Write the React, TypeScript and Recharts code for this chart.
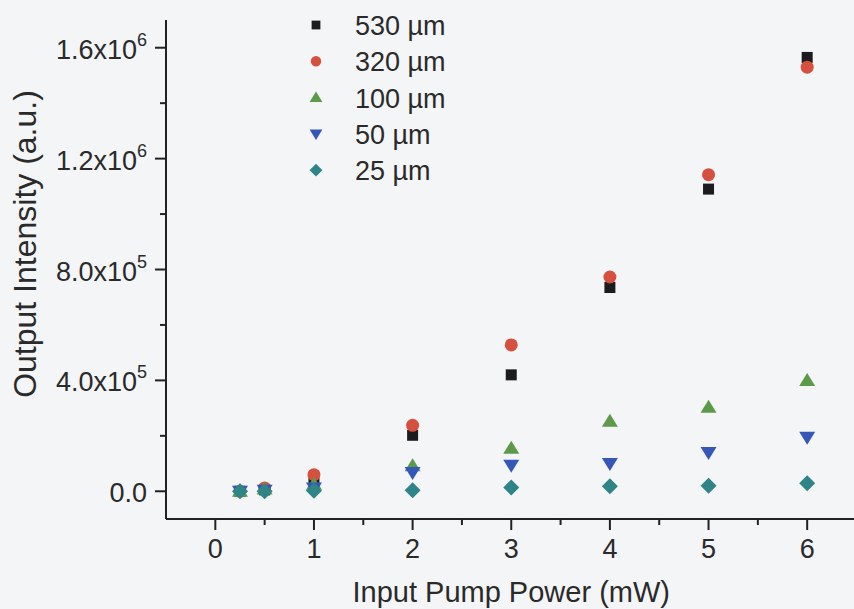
import React from 'react';
import { ScatterChart, Scatter, XAxis, YAxis, Legend, Label } from 'recharts';

const xValues = [0.25, 0.5, 1, 2, 3, 4, 5, 6];
const s530 = [0, 5000, 30000, 202000, 420000, 735000, 1090000, 1565000];
const s320 = [0, 12000, 60000, 238000, 528000, 773000, 1142000, 1530000];
const s100 = [0, 8000, 25000, 92000, 155000, 253000, 303000, 400000];
const s50 = [0, 4000, 12000, 68000, 94000, 100000, 140000, 195000];
const s25 = [0, 0, 2000, 4000, 14000, 18000, 20000, 29000];

const seriesNames = ['530 \u00b5m', '320 \u00b5m', '100 \u00b5m', '50 \u00b5m', '25 \u00b5m'];
const seriesColors = ['#1c1c1e', '#d6503f', '#5c9a49', '#3558b8', '#2e8486'];
const seriesShapes = ['square', 'circle', 'triangle', 'down', 'diamond'];
const seriesValues = [s530, s320, s100, s50, s25];

const xTicks = [0, 0.5, 1, 1.5, 2, 2.5, 3, 3.5, 4, 4.5, 5, 5.5, 6, 6.5];
const xTickLabels = ['0', '1', '2', '3', '4', '5', '6'];
const yTicks = [0, 200000, 400000, 600000, 800000, 1000000, 1200000, 1400000, 1600000];
const yMajor = [0, 400000, 800000, 1200000, 1600000];
const yTickBase = ['0.0', '4.0x10', '8.0x10', '1.2x10', '1.6x10'];
const yTickExp = ['', '5', '5', '6', '6'];

const TEXT = '#2a2a2a';
const AXIS = '#222';
const FONT = 'Liberation Sans, Arial, Helvetica, sans-serif';

const makeData = (vals: number[]) => vals.map((v, i) => ({ x: xValues[i], y: v }));

function Marker({ kind, cx, cy, color, scale = 1 }: any) {
  if (cx == null || cy == null) return null;
  const s = scale;
  if (kind === 'square') {
    const h = 5.5 * s;
    return <rect x={cx - h} y={cy - h} width={2 * h} height={2 * h} fill={color} />;
  }
  if (kind === 'circle') {
    return <circle cx={cx} cy={cy} r={6.5 * s} fill={color} />;
  }
  if (kind === 'triangle') {
    const w = 8 * s, hUp = 7.5 * s, hDn = 5.5 * s;
    return <polygon points={`${cx},${cy - hUp} ${cx + w},${cy + hDn} ${cx - w},${cy + hDn}`} fill={color} />;
  }
  if (kind === 'down') {
    const w = 8 * s, hUp = 5.5 * s, hDn = 7.5 * s;
    return <polygon points={`${cx - w},${cy - hUp} ${cx + w},${cy - hUp} ${cx},${cy + hDn}`} fill={color} />;
  }
  const d = 8 * s;
  return <polygon points={`${cx},${cy - d} ${cx + d},${cy} ${cx},${cy + d} ${cx - d},${cy}`} fill={color} />;
}

function XTick(props: any) {
  const { x, y, payload } = props;
  const v = payload.value;
  const isMajor = Math.abs(v - Math.round(v)) < 1e-9;
  const idx = Math.round(v);
  return (
    <g>
      <line x1={x} y1={y} x2={x} y2={y + (isMajor ? 11 : 6)} stroke={AXIS} strokeWidth={2} />
      {isMajor && idx >= 0 && idx < xTickLabels.length ? (
        <text x={x} y={y + 39} textAnchor="middle" fontSize={27} fill={TEXT} fontFamily={FONT}>
          {xTickLabels[idx]}
        </text>
      ) : null}
    </g>
  );
}

function YTick(props: any) {
  const { x, y, payload } = props;
  const v = payload.value;
  const mi = yMajor.indexOf(v);
  const isMajor = mi >= 0;
  return (
    <g>
      <line x1={x - (isMajor ? 11 : 6)} y1={y} x2={x} y2={y} stroke={AXIS} strokeWidth={2} />
      {isMajor ? (
        <text x={x - 19} y={y + 11} textAnchor="end" fontSize={27} fill={TEXT} fontFamily={FONT}>
          {yTickBase[mi]}
          {yTickExp[mi] ? (
            <tspan dy={-13} fontSize={18}>{yTickExp[mi]}</tspan>
          ) : null}
        </text>
      ) : null}
    </g>
  );
}

function LegendContent() {
  return (
    <svg width={220} height={190} style={{ display: 'block' }}>
      {seriesNames.map((name, i) => {
        const cy = 25 + i * 36.3;
        return (
          <g key={name}>
            <Marker kind={seriesShapes[i]} cx={26} cy={cy} color={seriesColors[i]} scale={0.8} />
            <text x={65} y={cy + 10} fontSize={27} fill={TEXT} fontFamily={FONT}>{name}</text>
          </g>
        );
      })}
    </svg>
  );
}

export default function App() {
  return (
    <div
      style={{
        position: 'fixed',
        left: 0,
        top: 0,
        width: 854,
        height: 609,
        overflow: 'hidden',
        background: '#f4f5f7',
      }}
    >
      <ScatterChart
        width={870}
        height={609}
        margin={{ top: 20, right: 13.5, left: 0, bottom: 0 }}
        style={{ fontFamily: FONT }}
      >
        <XAxis
          type="number"
          dataKey="x"
          domain={[-0.5, 6.5]}
          ticks={xTicks}
          interval={0}
          allowDataOverflow
          height={90}
          tickSize={0}
          tickMargin={0}
          tickLine={false}
          axisLine={{ stroke: AXIS, strokeWidth: 2 }}
          tick={(p: any) => <XTick {...p} />}
        >
          <Label
            value="Input Pump Power (mW)"
            position="insideBottom"
            offset={7}
            fontSize={29}
            fill={TEXT}
            fontFamily={FONT}
          />
        </XAxis>
        <YAxis
          type="number"
          dataKey="y"
          domain={[-100000, 1700000]}
          ticks={yTicks}
          interval={0}
          allowDataOverflow
          width={166}
          tickSize={0}
          tickMargin={0}
          tickLine={false}
          axisLine={{ stroke: AXIS, strokeWidth: 2 }}
          tick={(p: any) => <YTick {...p} />}
        >
          <Label
            content={() => (
              <text
                x={25}
                y={244}
                transform="rotate(-90 25 244)"
                textAnchor="middle"
                dominantBaseline="central"
                fontSize={32}
                fill={TEXT}
                fontFamily={FONT}
              >
                Output Intensity (a.u.)
              </text>
            )}
          />
        </YAxis>
        <Legend
          layout="vertical"
          align="center"
          verticalAlign="middle"
          content={() => <LegendContent />}
          wrapperStyle={{ position: 'absolute', left: 290, top: 0, width: 220, height: 190 }}
        />
        {seriesValues.map((vals, i) => (
          <Scatter
            key={seriesNames[i]}
            name={seriesNames[i]}
            data={makeData(vals)}
            fill={seriesColors[i]}
            isAnimationActive={false}
            shape={(p: any) => <Marker kind={seriesShapes[i]} cx={p.cx} cy={p.cy} color={seriesColors[i]} />}
          />
        ))}
      </ScatterChart>
    </div>
  );
}
